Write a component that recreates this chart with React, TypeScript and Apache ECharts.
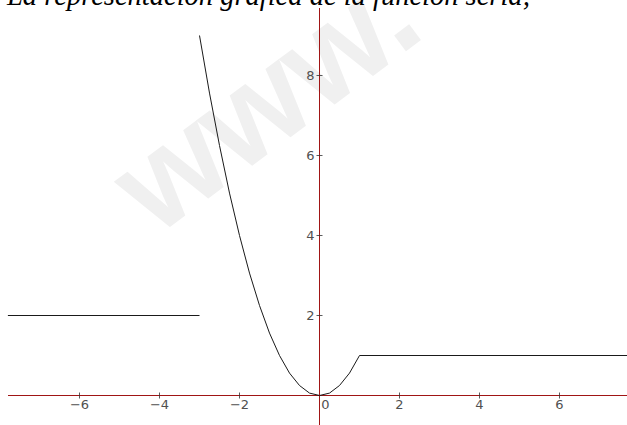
import React, { useEffect, useRef } from "react";
import * as echarts from "echarts";

const X_MIN = -7.7875;
const X_MAX = 7.6875;
const Y_MIN = -0.7375;
const Y_MAX = 9.6875;
const xTickValues = [-6, -4, -2, 2, 4, 6];
const xLabelValues = [-6, -4, -2, 0, 2, 4, 6];
const yTickValues = [2, 4, 6, 8];
const leftPiece: [number, number][] = [[-7.79, 2], [-3, 2]];
const parabolaPiece: [number, number][] = [
  [-3, 9], [-2.75, 7.56], [-2.5, 6.25], [-2.25, 5.06], [-2, 4], [-1.75, 3.06],
  [-1.5, 2.25], [-1.25, 1.56], [-1, 1], [-0.75, 0.56], [-0.5, 0.25], [-0.25, 0.06],
  [0, 0], [0.25, 0.06], [0.5, 0.25], [0.75, 0.56], [1, 1],
];
const rightPiece: [number, number][] = [[1, 1], [7.69, 1]];
const titleText = "La representación gráfica de la función sería;";
const watermarkText = "www.";

const AXIS_RED = "#a01515";
const LABEL_GRAY = "#505050";
const CURVE = "#1a1a1a";

function fmt(v: number): string {
  return v < 0 ? "\u2212" + Math.abs(v) : String(v);
}

export default function App() {
  const ref = useRef<HTMLDivElement>(null);
  useEffect(() => {
    if (!ref.current) return;
    const chart = echarts.init(ref.current, undefined, { renderer: "svg" });
    const labelFont = { fontFamily: "DejaVu Sans", fontSize: 13, color: LABEL_GRAY };
    const axisSeries = (data: [number, number][]) => ({
      type: "line",
      data,
      showSymbol: false,
      lineStyle: { color: AXIS_RED, width: 1 },
      silent: true,
      z: 4,
    });
    chart.setOption({
      animation: false,
      backgroundColor: "#ffffff",
      grid: { left: 8, right: 0, top: 8, bottom: 0, outerBoundsMode: "none", containLabel: false },
      xAxis: {
        type: "value",
        position: "bottom",
        offset: -29.5,
        min: X_MIN,
        max: X_MAX,
        axisLine: { show: false },
        axisTick: { show: false },
        splitLine: { show: false },
        axisLabel: {
          customValues: xLabelValues,
          ...labelFont,
          margin: 2,
          formatter: (v: number) => (v === 0 ? "{z|0}" : fmt(v)),
          rich: { z: { ...labelFont, padding: [0, 0, 0, 12] } },
        },
      },
      yAxis: {
        type: "value",
        position: "left",
        offset: -311.5,
        min: Y_MIN,
        max: Y_MAX,
        axisLine: { show: false },
        axisTick: { show: false },
        splitLine: { show: false },
        axisLabel: { customValues: yTickValues, ...labelFont, margin: 5, formatter: (v: number) => fmt(v) },
      },
      graphic: [
        {
          type: "text",
          x: 168,
          y: 254,
          rotation: 0.64,
          z: -10,
          silent: true,
          style: {
            text: watermarkText,
            font: 'bold 132px "Liberation Sans"',
            fill: "#f0f0f0",
            textAlign: "left",
            textVerticalAlign: "bottom",
          },
        },
        {
          type: "text",
          x: 7,
          y: -4.6,
          z: 10,
          silent: true,
          style: {
            text: titleText,
            font: 'italic 28.5px "Liberation Serif"',
            fill: "#000000",
            textAlign: "left",
            textVerticalAlign: "middle",
          },
        },
      ],
      series: [
        axisSeries([[X_MIN, 0], [X_MAX, 0]]),
        axisSeries([[0, Y_MIN], [0, Y_MAX]]),
        {
          type: "line",
          data: leftPiece,
          showSymbol: false,
          lineStyle: { color: CURVE, width: 1 },
          silent: true,
          z: 5,
        },
        {
          type: "line",
          data: parabolaPiece,
          showSymbol: false,
          lineStyle: { color: CURVE, width: 1 },
          silent: true,
          z: 5,
        },
        {
          type: "line",
          data: rightPiece,
          showSymbol: false,
          lineStyle: { color: CURVE, width: 1 },
          silent: true,
          z: 5,
        },
        {
          type: "scatter",
          data: xTickValues.map((v) => [v, 0]),
          symbol: "rect",
          symbolSize: [1, 6],
          itemStyle: { color: "#333333" },
          silent: true,
          z: 6,
        },
        {
          type: "scatter",
          data: yTickValues.map((v) => [0, v]),
          symbol: "rect",
          symbolSize: [6, 1],
          itemStyle: { color: "#333333" },
          silent: true,
          z: 6,
        },
      ],
    });
    return () => chart.dispose();
  }, []);
  return (
    <div
      ref={ref}
      style={{ position: "fixed", left: 0, top: 0, width: 627, height: 425 }}
    />
  );
}
